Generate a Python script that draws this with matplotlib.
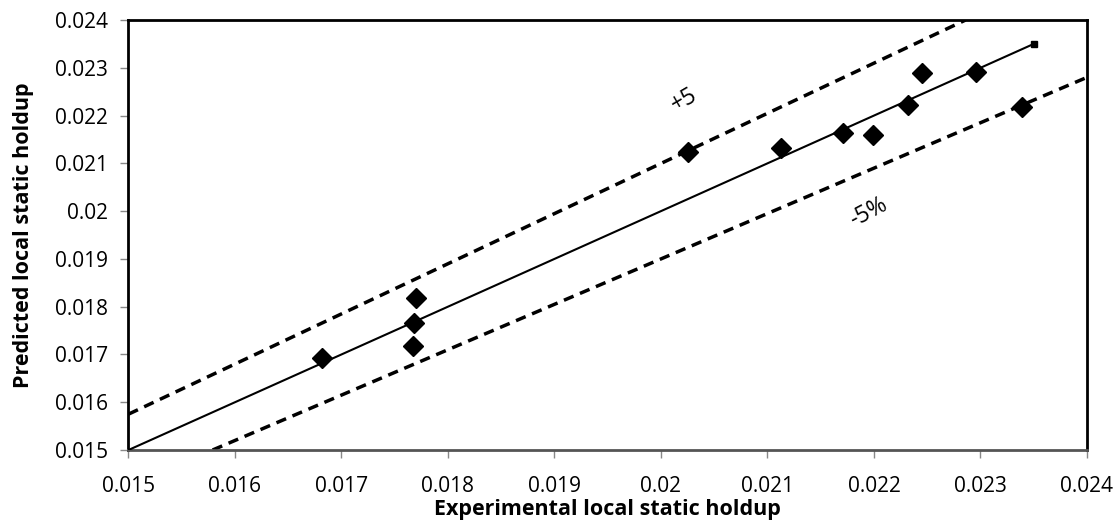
import numpy as np
import matplotlib.pyplot as plt

plt.rcParams['font.family'] = ['Open Sans', 'DejaVu Sans']

# experimental vs predicted local static holdup
experimental = [0.01682, 0.01770, 0.01768, 0.01767, 0.02025, 0.02113,
                0.02171, 0.02199, 0.02232, 0.02245, 0.02296, 0.02339]
predicted = [0.01692, 0.01818, 0.01766, 0.01718, 0.02123, 0.02132,
             0.02163, 0.02159, 0.02222, 0.02289, 0.02291, 0.02218]

# parity line and +/-5% bounds (end points)
parity_x = [0.015, 0.0235]
parity_y = [0.015, 0.0235]
upper_x = [0.015, 0.02286]
upper_y = [0.01575, 0.024]
lower_x = [0.01579, 0.024]
lower_y = [0.015, 0.0228]

ticks = np.arange(0.015, 0.02401, 0.001)
tick_labels = ["0.015", "0.016", "0.017", "0.018", "0.019",
               "0.02", "0.021", "0.022", "0.023", "0.024"]

fig = plt.figure(figsize=(11.19, 5.24), dpi=100)
ax = fig.add_axes([0.1148, 0.1412, 0.8566, 0.8206])

ax.plot(parity_x, parity_y, color="black", lw=1.5, marker="s", ms=5,
        markevery=[1], zorder=3)
ax.plot(upper_x, upper_y, color="black", lw=2.5, ls=(0, (3, 2)), zorder=2)
ax.plot(lower_x, lower_y, color="black", lw=2.5, ls=(0, (3, 2)), zorder=2)
ax.plot(experimental, predicted, ls="none", marker="D", ms=10.5,
        color="black", zorder=4)

ax.text(0.02022, 0.02232, "+5", rotation=30, fontsize=16.5,
        ha="center", va="center")
ax.text(0.02195, 0.01998, "-5%", rotation=28, fontsize=16.5,
        ha="center", va="center")

ax.set_xlim(0.015, 0.024)
ax.set_ylim(0.015, 0.024)
ax.set_xticks(ticks)
ax.set_xticklabels(tick_labels)
ax.set_yticks(ticks)
ax.set_yticklabels(tick_labels)
ax.tick_params(labelsize=15, length=6, width=1, color="#888888",
               direction="out")
ax.tick_params(axis="x", pad=13)
ax.tick_params(axis="y", pad=9)

for side in ["top", "right", "left"]:
    ax.spines[side].set_linewidth(2)
    ax.spines[side].set_color("black")
ax.spines["bottom"].set_linewidth(2)
ax.spines["bottom"].set_color("#555555")

ax.set_xlabel("Experimental local static holdup", fontsize=15.5,
              fontweight="bold", labelpad=1)
ax.set_ylabel("Predicted local static holdup", fontsize=15.5,
              fontweight="bold", labelpad=15)

fig.savefig("out.png", dpi=100)
